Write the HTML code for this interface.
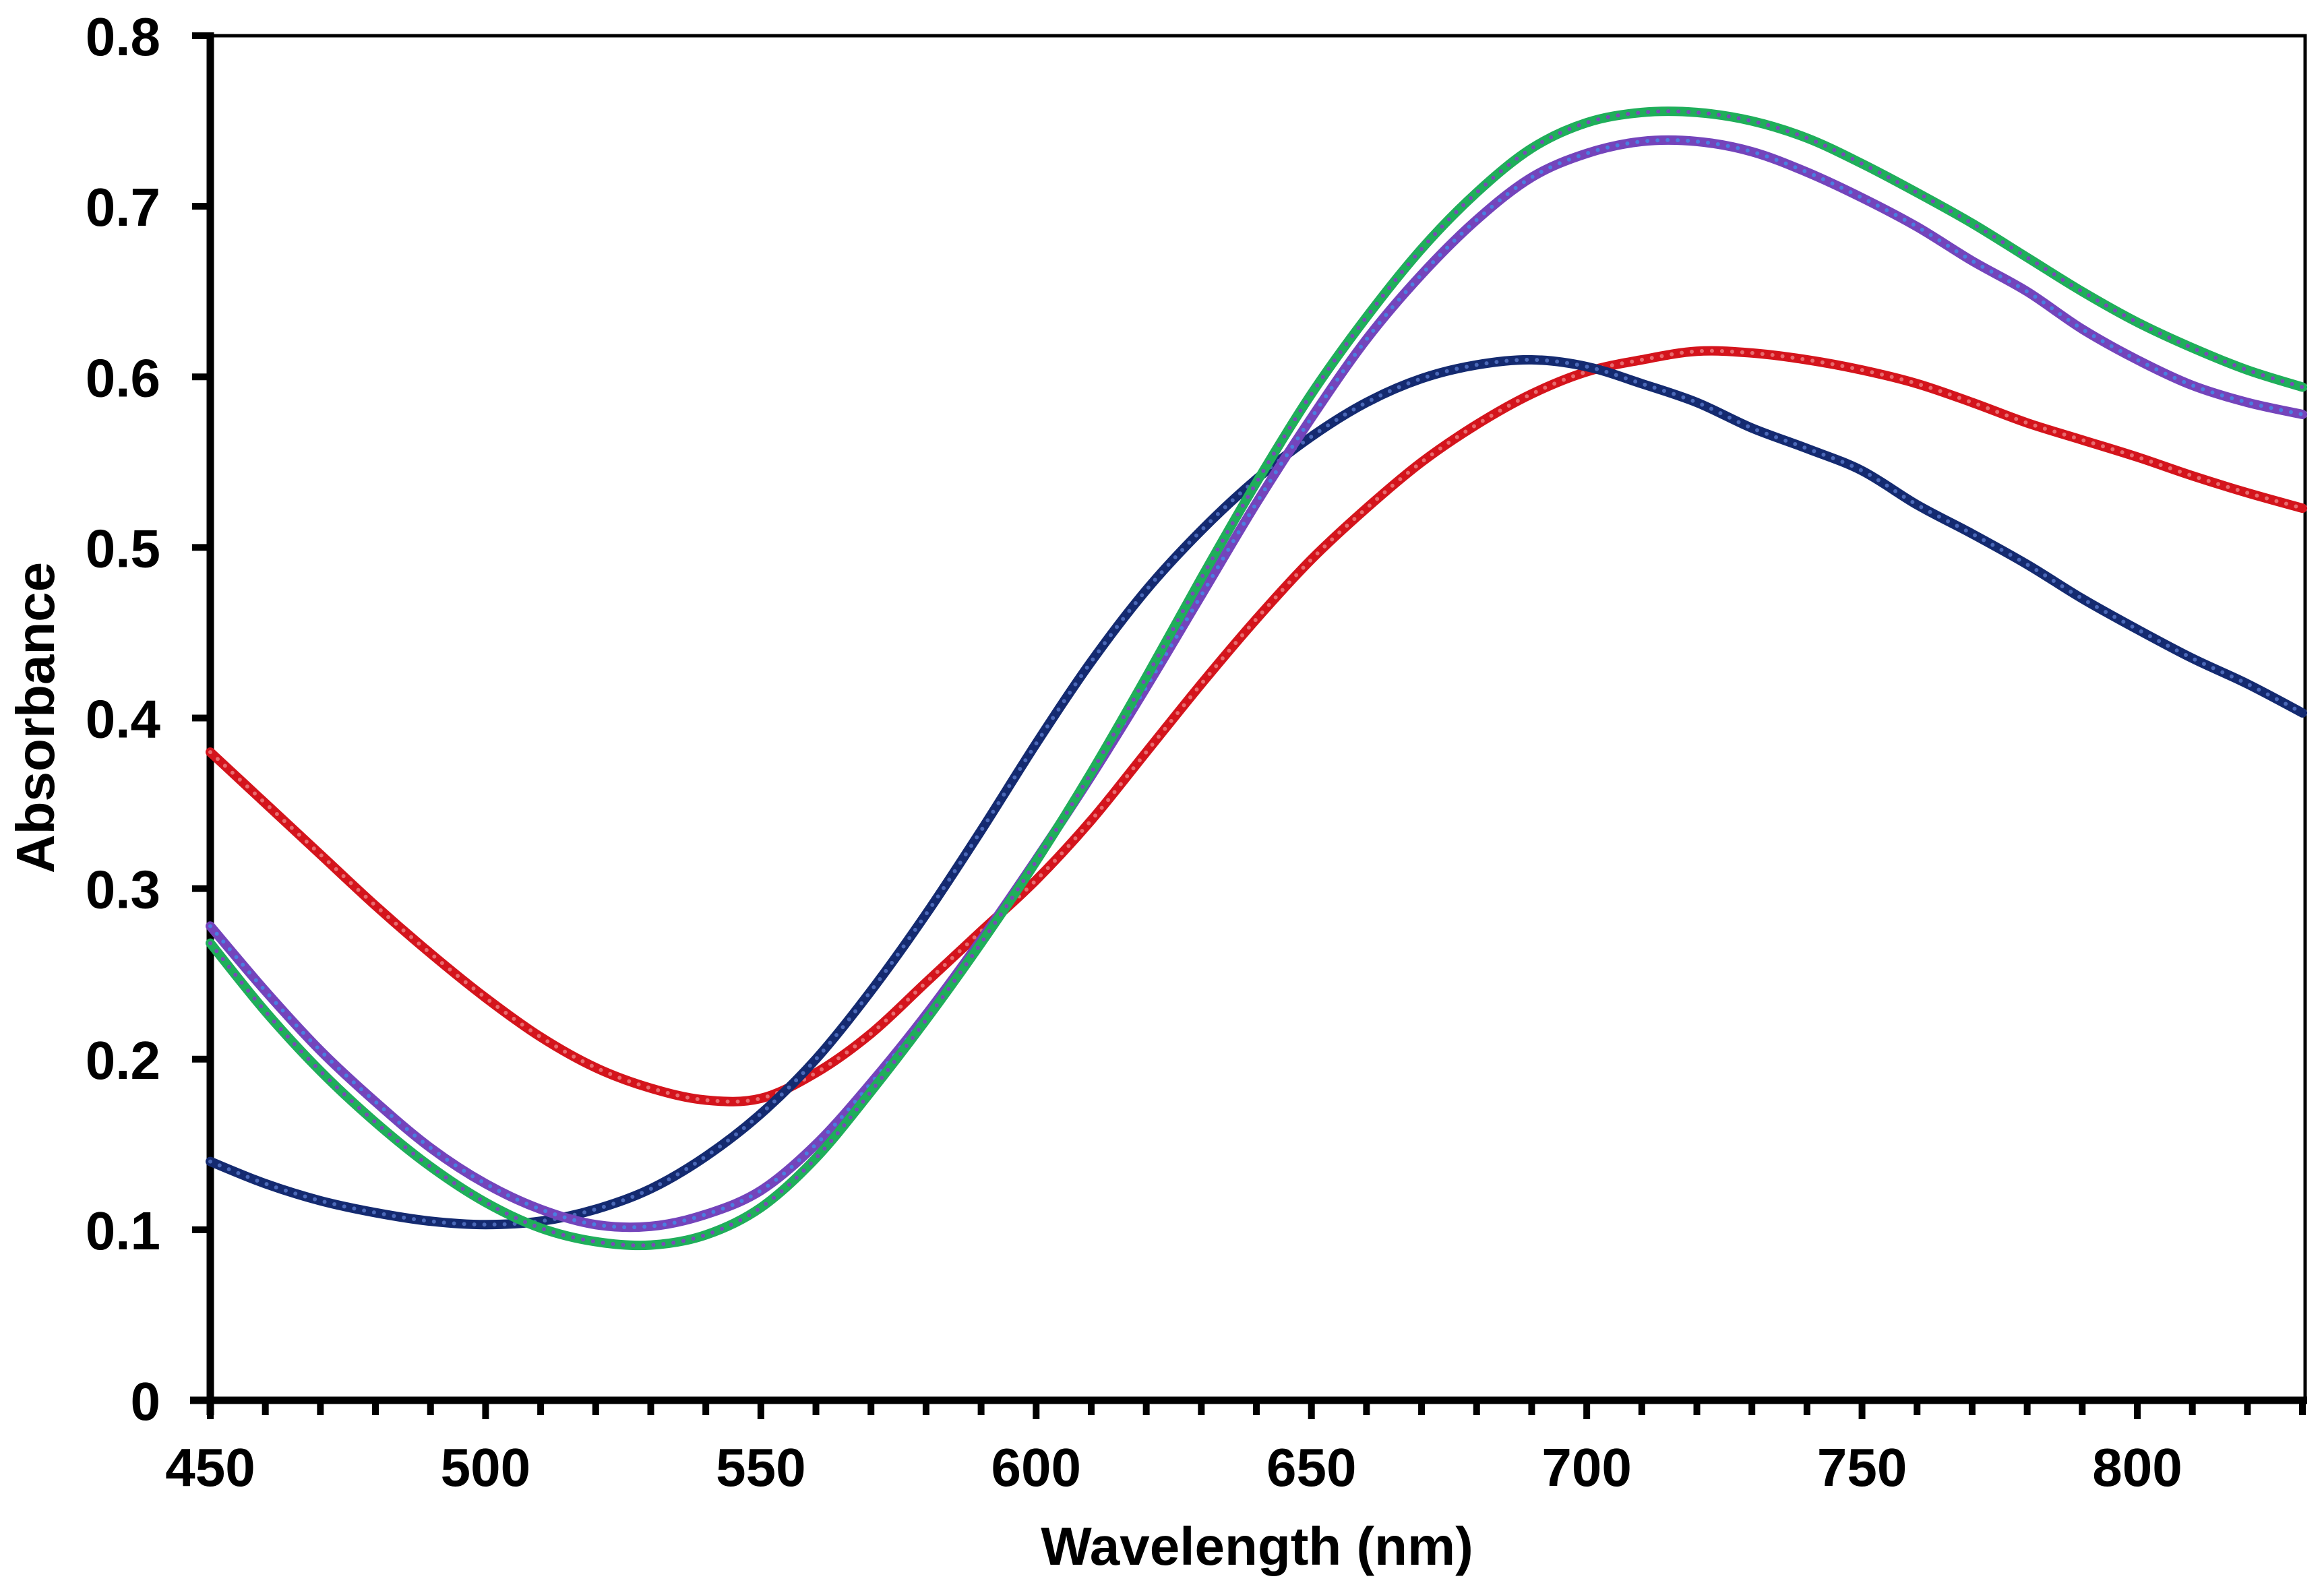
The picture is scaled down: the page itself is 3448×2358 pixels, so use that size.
<!DOCTYPE html>
<html><head><meta charset="utf-8"><style>
html,body{margin:0;padding:0;background:#fff;}
svg{display:block;}
text{font-family:"Liberation Sans",Arial,sans-serif;font-weight:bold;fill:#000;}
</style></head><body>
<svg id="chart" width="3448" height="2358" viewBox="0 0 3448 2358" xmlns="http://www.w3.org/2000/svg">
<g id="axes"></g>
<g id="series"></g>
<text x="1865" y="2322" font-size="80" text-anchor="middle">Wavelength (nm)</text>
<text x="0" y="0" font-size="80" text-anchor="middle" transform="translate(80,1065) rotate(-90)">Absorbance</text>
</svg>
<script>
const wavelengths = [450,460,470,480,490,500,510,520,530,540,550,560,570,580,590,600,610,620,630,640,650,660,670,680,690,700,710,720,730,740,750,760,770,780,790,800,810,820,830];
const navySeries = [0.140,0.127,0.117,0.110,0.105,0.103,0.105,0.112,0.124,0.143,0.168,0.200,0.240,0.285,0.334,0.385,0.433,0.475,0.510,0.540,0.565,0.585,0.599,0.607,0.610,0.606,0.596,0.585,0.570,0.558,0.545,0.525,0.508,0.490,0.470,0.452,0.435,0.420,0.403];
const redSeries = [0.380,0.350,0.320,0.290,0.262,0.236,0.213,0.195,0.183,0.176,0.177,0.192,0.215,0.245,0.275,0.305,0.340,0.380,0.420,0.458,0.493,0.523,0.550,0.572,0.590,0.603,0.610,0.615,0.614,0.610,0.604,0.596,0.585,0.573,0.563,0.553,0.542,0.532,0.523];
const purpleSeries = [0.278,0.240,0.205,0.175,0.148,0.127,0.112,0.103,0.102,0.109,0.123,0.150,0.186,0.226,0.270,0.317,0.366,0.418,0.472,0.526,0.576,0.622,0.660,0.692,0.717,0.731,0.738,0.738,0.732,0.720,0.705,0.688,0.668,0.650,0.628,0.610,0.595,0.585,0.578];
const greenSeries = [0.268,0.228,0.193,0.163,0.137,0.116,0.101,0.093,0.091,0.097,0.113,0.142,0.181,0.223,0.268,0.316,0.368,0.424,0.482,0.538,0.590,0.635,0.675,0.708,0.734,0.749,0.755,0.755,0.750,0.740,0.725,0.708,0.690,0.670,0.650,0.632,0.617,0.604,0.594];
const xTickLabels = [450,500,550,600,650,700,750,800];
const yTickLabels = [0,0.1,0.2,0.3,0.4,0.5,0.6,0.7,0.8];

const NS="http://www.w3.org/2000/svg";
const X0=312, PXNM=(3171-312)/350, Y0=2078, PXU=(2078-53)/0.8, XR=3420;
function xs(v){return X0+(v-450)*PXNM;}
function ys(v){return Y0-v*PXU;}
function mk(tag,attrs,parent){const e=document.createElementNS(NS,tag);for(const k in attrs)e.setAttribute(k,attrs[k]);parent.appendChild(e);return e;}
const axes=document.getElementById('axes');
const frame=mk('rect',{x:X0,y:ys(0.8),width:XR-X0,height:Y0-ys(0.8),fill:'none',stroke:'#000','stroke-width':5},axes);


const xaxis=mk('line',{x1:X0-30,y1:Y0,x2:XR+3,y2:Y0,stroke:'#000','stroke-width':11},axes);


const yaxis=mk('line',{x1:X0,y1:ys(0.8)-5,x2:X0,y2:Y0+22,stroke:'#000','stroke-width':11},axes);


for(let w=450;w<=830;w+=10){
  const major=(w%50===0);
  const t=mk('line',{x1:xs(w),y1:Y0,x2:xs(w),y2:Y0+(major?28:22),stroke:'#000','stroke-width':10},axes);
  
  
}
xTickLabels.forEach(v=>{
  const t=mk('text',{x:xs(v),y:2205,'font-size':80,'text-anchor':'middle'},axes);
  t.textContent=String(v);
  
  
});
yTickLabels.forEach(v=>{
  const l=mk('line',{x1:X0-27,y1:ys(v),x2:X0,y2:ys(v),stroke:'#000','stroke-width':10},axes);
  
  
  const t=mk('text',{x:238,y:ys(v)+29,'font-size':80,'text-anchor':'end'},axes);
  t.textContent=(v===0?'0':v.toFixed(1));
  
  
});
function pathFor(vals){
  const p=wavelengths.map((w,i)=>[xs(w),ys(vals[i])]);
  let d='M'+p[0][0]+','+p[0][1];
  for(let i=0;i<p.length-1;i++){
    const a=p[Math.max(i-1,0)],b=p[i],c=p[i+1],e=p[Math.min(i+2,p.length-1)];
    d+=' C'+(b[0]+(c[0]-a[0])/6)+','+(b[1]+(c[1]-a[1])/6)+' '+(c[0]-(e[0]-b[0])/6)+','+(c[1]-(e[1]-b[1])/6)+' '+c[0]+','+c[1];
  }
  return d;
}
const sg=document.getElementById('series');
function drawSeries(vals,color,dot,name){
  const g=mk('g',{},sg);
  
  
  const d=pathFor(vals);
  mk('path',{d:d,fill:'none',stroke:color,'stroke-width':14,'stroke-linecap':'round'},g);
  mk('path',{d:d,fill:'none',stroke:dot,'stroke-width':6,'stroke-dasharray':'0 15','stroke-linecap':'round'},g);
}
drawSeries(redSeries,'#d4141c','#e86a6e','series-red');
drawSeries(navySeries,'#142a70','#4a68b8','series-navy');
drawSeries(purpleSeries,'#7444bb','#4a7ee0','series-purple');
drawSeries(greenSeries,'#1fae5a','#7a4ab8','series-green');
</script>
</body></html>
